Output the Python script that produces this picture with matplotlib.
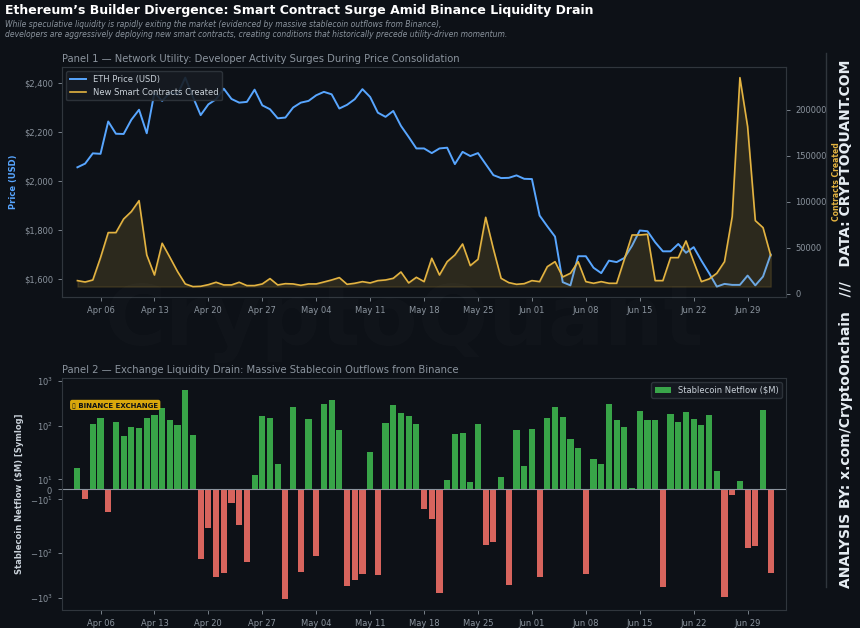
import matplotlib

matplotlib.use("Agg")
import matplotlib.dates as mdates
import matplotlib.pyplot as plt
import pandas as pd
from matplotlib.lines import Line2D
from matplotlib.ticker import FuncFormatter

BG = "#0d1117"
GRID = "#30363d"
MUTED = "#8b949e"
BLUE = "#58a6ff"
GOLD = "#e3b341"
GREEN = "#3fb950"
RED = "#f47067"

dates = pd.date_range("2025-04-03", periods=91, freq="D")

eth_price = [
    2054, 2069, 2111, 2109, 2241, 2191, 2190, 2248, 2289, 2193,
    2359, 2325, 2359, 2352, 2420, 2341, 2267, 2311, 2332, 2375,
    2333, 2318, 2321, 2371, 2307, 2291, 2254, 2257, 2298, 2318,
    2325, 2348, 2362, 2352, 2294, 2309, 2332, 2373, 2341, 2277,
    2260, 2284, 2223, 2178, 2131, 2131, 2112, 2131, 2134, 2067,
    2117, 2100, 2112, 2067, 2022, 2010, 2011, 2021, 2007, 2006,
    1857, 1813, 1771, 1585, 1572, 1691, 1691, 1644, 1622, 1673,
    1667, 1684, 1734, 1796, 1793, 1748, 1711, 1711, 1741, 1705,
    1728, 1673, 1622, 1567, 1578, 1574, 1574, 1612, 1572, 1608,
    1698,
]

contracts = [
    14500, 13000, 15200, 39500, 66700, 66700, 81500, 89500, 101400, 42400,
    20600, 55100, 39900, 24300, 10900, 8000, 8300, 10100, 12700, 9800,
    9800, 12700, 9100, 9100, 10900, 16700, 9800, 11200, 10900, 9400,
    10900, 10900, 13000, 15200, 17800, 10500, 11600, 13400, 12000, 14500,
    15200, 17000, 23900, 12000, 18100, 13400, 38800, 20600, 35100, 42400,
    54300, 30800, 37700, 83300, 48900, 17000, 12300, 10500, 11200, 14500,
    13400, 29700, 35100, 18500, 22500, 35100, 13400, 11600, 13400, 11600,
    11600, 37700, 64100, 64100, 64900, 14500, 14500, 39500, 39500, 57600,
    35100, 13400, 16300, 22500, 35100, 84100, 235100, 181900, 79700, 72100,
    41700,
]

netflow = [
    21, -10, 108, 152, -23, 121, 60, 96, 88, 147,
    177, 250, 137, 104, 645, 62, -139, -39, -350, -280,
    -14, -36, -157, 14, 168, 152, 25, -1059, 262, -262,
    142, -117, 310, 381, 81, -554, -401, -300, 37, -315,
    117, 285, 192, 162, 110, -20, -30, -792, 9, 67,
    68, 7, 111, -68, -57, 12, -518, 79, 23, 86,
    -343, 147, 266, 157, 50, 41, -290, 30, 25, 315,
    135, 96, 1, 213, 132, 132, -583, 180, 124, 199,
    144, 104, 173, 18, -940, -6, 8, -77, -70, 228,
    -280,
]


def style_axis(ax):
    ax.set_facecolor(BG)
    for spine in ax.spines.values():
        spine.set_color(GRID)
    ax.tick_params(colors=MUTED, labelsize=6, length=3, width=0.6)
    ax.xaxis.set_major_locator(mdates.WeekdayLocator(byweekday=mdates.SU))
    ax.xaxis.set_major_formatter(mdates.DateFormatter("%b %d"))
    ax.set_xlim(dates[0] - pd.Timedelta(days=2), dates[-1] + pd.Timedelta(days=2))


fig = plt.figure(figsize=(8.6, 6.28), dpi=100, facecolor=BG)

# panel 1: price vs new contracts
ax1 = fig.add_axes([0.0721, 0.527, 0.842, 0.366])
style_axis(ax1)
ax1.plot(dates, eth_price, color=BLUE, lw=1.4, label="ETH Price (USD)")
ax1.yaxis.set_major_formatter(FuncFormatter(lambda v, _: f"${v:,.0f}"))
ax1.set_ylabel("Price (USD)", color=BLUE, fontsize=6, weight="bold")
ax1.set_title("Panel 1 — Network Utility: Developer Activity Surges During Price Consolidation",
              loc="left", color=MUTED, fontsize=7.2, pad=4)

ax1b = ax1.twinx()
ax1b.tick_params(colors=MUTED, labelsize=6, length=3, width=0.6)
for spine in ax1b.spines.values():
    spine.set_color(GRID)
ax1b.plot(dates, contracts, color=GOLD, lw=1.2, label="New Smart Contracts Created")
ax1b.fill_between(dates, contracts, min(contracts), color=GOLD, alpha=0.15)
ax1b.set_ylabel("Contracts Created", color=GOLD, fontsize=5.5, weight="bold")

handles = ax1.get_lines() + ax1b.get_lines()
ax1b.legend(handles, [h.get_label() for h in handles], loc="upper left", fontsize=6,
            facecolor="#161b22", edgecolor=GRID, labelcolor="#c9d1d9", framealpha=0.9)

# panel 2: binance stablecoin netflow
ax2 = fig.add_axes([0.0721, 0.0287, 0.842, 0.369])
style_axis(ax2)
bar_colors = [GREEN if v >= 0 else RED for v in netflow]
ax2.bar(dates, netflow, width=0.8, color=bar_colors, alpha=0.88, label="Stablecoin Netflow ($M)")
ax2.axhline(0, color=MUTED, lw=0.8)
ax2.set_yscale("symlog", linthresh=50)
ax2.set_ylim(-1875, 1150)
ax2.set_ylabel("Stablecoin Netflow ($M) [Symlog]", color="#c9d1d9", fontsize=6, weight="bold")
ax2.set_title("Panel 2 — Exchange Liquidity Drain: Massive Stablecoin Outflows from Binance",
              loc="left", color=MUTED, fontsize=7.2, pad=4)
ax2.legend(loc="upper right", fontsize=6, facecolor="#161b22", edgecolor=GRID,
           labelcolor="#c9d1d9", framealpha=0.9)
ax2.text(0.014, 0.885, "\u25af BINANCE EXCHANGE", transform=ax2.transAxes, fontsize=5,
         weight="bold", color=BG, va="center",
         bbox=dict(boxstyle="round,pad=0.3", fc="#f0b90b", ec="none", alpha=0.9))

# headline and credits
fig.text(0.006, 0.993, "Ethereum\u2019s Builder Divergence: Smart Contract Surge Amid Binance Liquidity Drain",
         va="top", ha="left", fontsize=9, weight="bold", color="white")
fig.text(0.006, 0.968,
         "While speculative liquidity is rapidly exiting the market (evidenced by massive stablecoin outflows from Binance),\n"
         "developers are aggressively deploying new smart contracts, creating conditions that historically precede utility-driven momentum.",
         va="top", ha="left", fontsize=5.5, style="italic", color=MUTED, linespacing=1.15)
fig.text(0.47, 0.487, "CryptoQuant", ha="center", va="center", fontsize=60, weight="bold",
         color="white", alpha=0.015)
fig.add_artist(Line2D([0.9605, 0.9605], [0.916, 0.065], transform=fig.transFigure,
                      color=GRID, lw=1))
fig.text(0.984, 0.484, "ANALYSIS BY: x.com/CryptoOnchain   ///   DATA: CRYPTOQUANT.COM",
         rotation=90, ha="center", va="center", fontsize=10, weight="bold", color="#e6edf3")

fig.savefig("out.png", dpi=100, facecolor=BG)
plt.close(fig)
